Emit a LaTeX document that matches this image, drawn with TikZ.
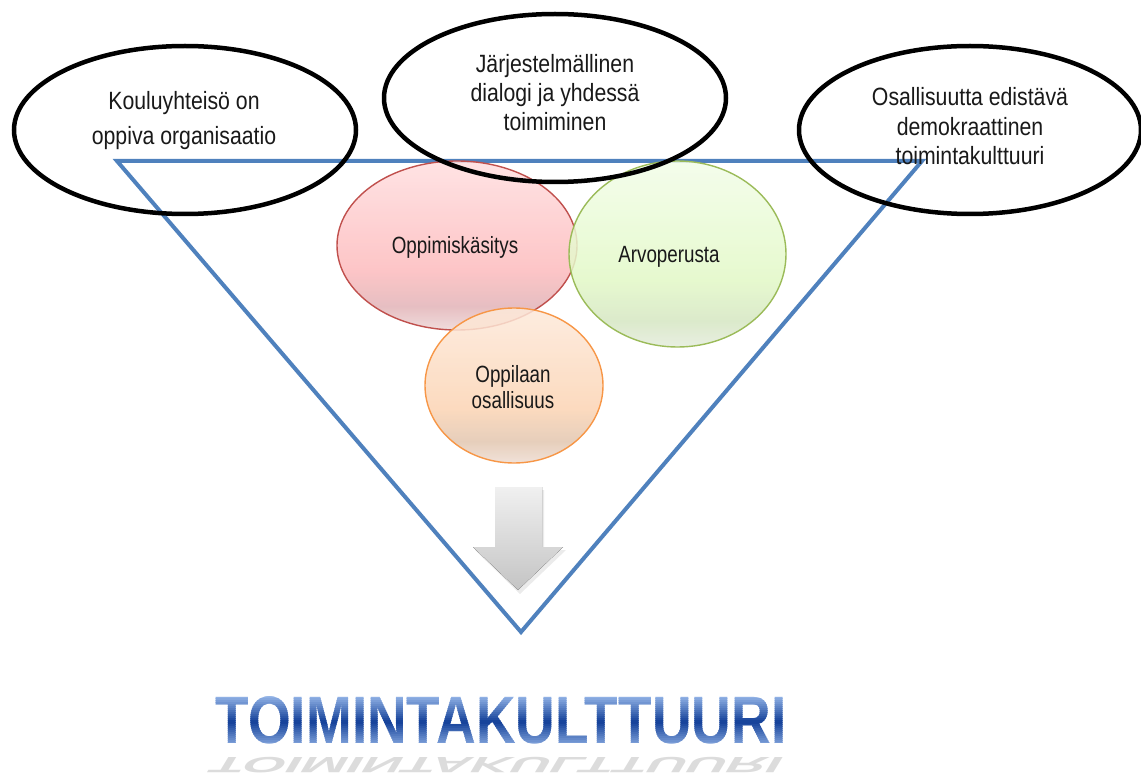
\documentclass[tikz,border=0pt]{standalone}
\usepackage{fontspec}
\setmainfont{Liberation Sans}
\newfontfamily\ellfont{Liberation Sans}[FakeStretch=0.85]
\newfontfamily\circfont{Liberation Sans}[FakeStretch=0.8]
\newfontfamily\titfont{Liberation Sans}[FakeStretch=0.82]
\usetikzlibrary{shapes.geometric}
\definecolor{triblue}{HTML}{4F81BD}
\definecolor{redA}{HTML}{EDD6D6}
\definecolor{redB}{HTML}{E2B3B7}
\definecolor{redC}{HTML}{FDBBBD}
\definecolor{redD}{HTML}{FFDEDF}
\definecolor{redline}{HTML}{C0504D}
\definecolor{grnA}{HTML}{E4ECDC}
\definecolor{grnB}{HTML}{D5E6C2}
\definecolor{grnC}{HTML}{E2F8C6}
\definecolor{grnD}{HTML}{F2FDE8}
\definecolor{grnline}{HTML}{9BBB59}
\definecolor{orgA}{HTML}{EEDCD2}
\definecolor{orgB}{HTML}{E2C6AF}
\definecolor{orgC}{HTML}{FCD4B4}
\definecolor{orgD}{HTML}{FDE9DA}
\definecolor{orgline}{HTML}{F79646}
\definecolor{arrA}{HTML}{C4C4C4}
\definecolor{arrD}{HTML}{F0F0F0}
\definecolor{tlight}{HTML}{A3C2F0}
\definecolor{tdark}{HTML}{123F98}
\pgfdeclareverticalshading{redsh}{100bp}{color(0bp)=(redA); color(25bp)=(redA); color(32bp)=(redB); color(43bp)=(redC); color(75bp)=(redD); color(100bp)=(redD)}
\pgfdeclareverticalshading{grnsh}{100bp}{color(0bp)=(grnA); color(25bp)=(grnA); color(32bp)=(grnB); color(43bp)=(grnC); color(75bp)=(grnD); color(100bp)=(grnD)}
\pgfdeclareverticalshading{orgsh}{100bp}{color(0bp)=(orgA); color(25bp)=(orgA); color(32bp)=(orgB); color(43bp)=(orgC); color(75bp)=(orgD); color(100bp)=(orgD)}
\pgfdeclareverticalshading{arrsh}{100bp}{color(0bp)=(arrA); color(25bp)=(arrA); color(75bp)=(arrD); color(100bp)=(arrD)}
\tikzset{
  bigell/.style={ellipse, draw=black, line width=4.5pt, inner sep=0pt, minimum width=342pt, minimum height=168pt},
  colell/.style={ellipse, line width=1.4pt, inner sep=0pt, fill opacity=0.85},
  etxt/.style={inner sep=0pt, anchor=base, text=black!90, font=\ellfont\fontsize{25}{30}\selectfont},
  ctxt/.style={inner sep=0pt, anchor=base, text=black!90, font=\circfont\fontsize{23.5}{28}\selectfont},
  ttxt/.style={inner sep=0pt, anchor=base, font=\titfont\bfseries\fontsize{67}{70}\selectfont},
  triline/.style={draw=triblue, line width=4pt, line join=miter}
}
\begin{document}
\begin{tikzpicture}[x=1pt,y=-1pt]
\useasboundingbox (0,0) rectangle (1141,778);
% triangle
\coordinate (tl) at (117,161);
\coordinate (tr) at (922,161);
\coordinate (tb) at (521,632);
\draw[triline] (tl) -- (tr) -- (tb) -- cycle;
% coloured ellipses
\node[colell, shading=redsh, draw=redline, minimum width=240pt, minimum height=169pt] (oppe) at (457,245.5) {};
\node[colell, shading=grnsh, draw=grnline, minimum width=217pt, minimum height=186pt] (arve) at (677.5,254) {};
\node[colell, shading=orgsh, draw=orgline, minimum width=178pt, minimum height=155pt] (osae) at (514,385.5) {};
\node[ctxt] (oppt) at (455,254) {Oppimiskäsitys};
\node[ctxt] (arvt) at (669,262) {Arvoperusta};
\node[ctxt] (osat1) at (513,382) {Oppilaan};
\node[ctxt] (osat2) at (513,408) {osallisuus};
% arrow
\fill[black, opacity=0.08] (497,490) -- (544,490) -- (544,550) -- (566,550) -- (520,594) -- (475,550) -- (497,550) -- cycle;
\fill[shading=arrsh] (495,487) -- (542,487) -- (542,547) -- (563,547) -- (518,590) -- (473,547) -- (495,547) -- cycle;
% black ellipses
\node[bigell] (ke) at (185,130) {};
\node[bigell] (je) at (555,98) {};
\node[bigell] (oe) at (970,130) {};
\node[etxt] (kt1) at (184,110) {Kouluyhteisö on};
\node[etxt] (kt2) at (184,145) {oppiva organisaatio};
\node[etxt] (jt1) at (555,73) {Järjestelmällinen};
\node[etxt] (jt2) at (555,102) {dialogi ja yhdessä};
\node[etxt] (jt3) at (555,131) {toimiminen};
\node[etxt] (ot1) at (970,106) {Osallisuutta edistävä};
\node[etxt] (ot2) at (970,135.5) {demokraattinen};
\node[etxt] (ot3) at (970,165) {toimintakulttuuri};
% title with vertical gradient
\foreach \i in {0,...,26}{
  \pgfmathsetmacro\yy{692+2*\i}
  \pgfmathsetmacro\p{\yy<721 ? (\yy-692)/29*100 : 100-(\yy-721)/24*80}
  \begin{scope}
    \clip (0,\yy) rectangle (1141,{\yy+2.3});
    \node[ttxt, text=tdark!\p!tlight] (title\i) at (501,743) {TOIMINTAKULTTUURI};
  \end{scope}
}
% reflection
\node[ttxt, text=black!30, opacity=0.45, yscale=-0.33, xslant=-0.2, transform shape] (refl) at (501,757) {TOIMINTAKULTTUURI};
\end{tikzpicture}
\end{document}
